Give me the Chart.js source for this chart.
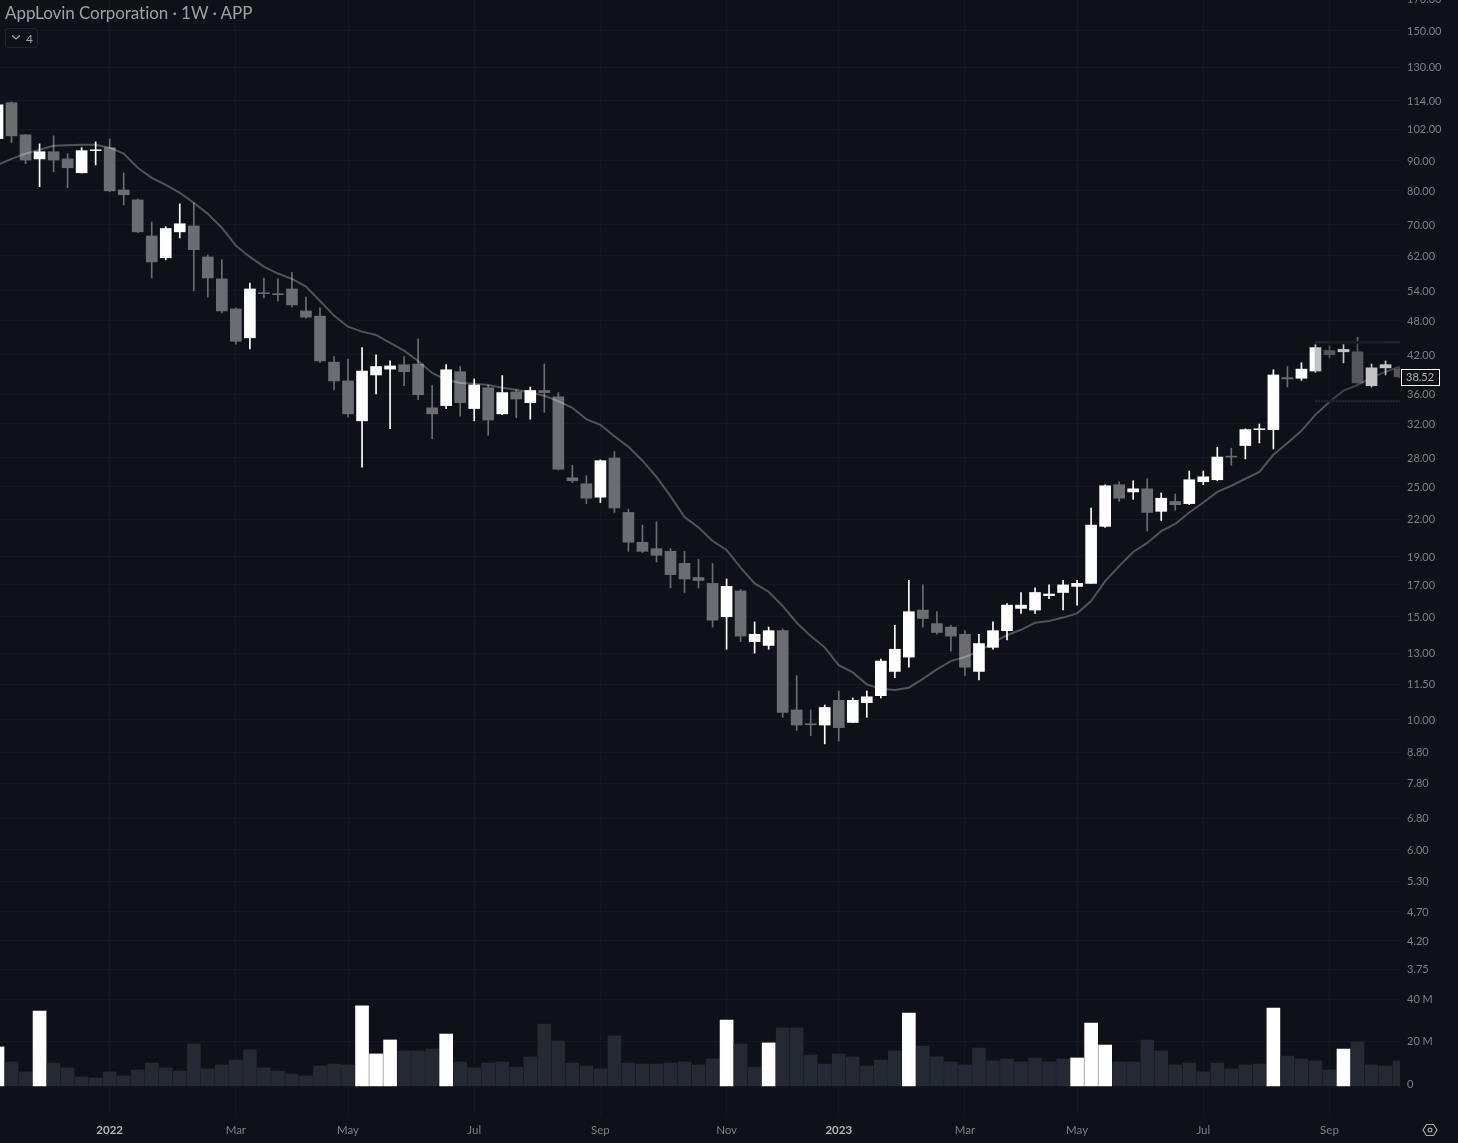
<!DOCTYPE html>
<html>
<head>
<meta charset="utf-8">
<title>AppLovin Corporation 1W</title>
<script src="https://cdn.jsdelivr.net/npm/chart.js@4"></script>
<style>
    html, body { margin: 0; padding: 0; background: #0e1118; }
    #wrap { position: relative; width: 1458px; height: 1143px; overflow: hidden; }
    #chart { display: block; }
    #title { position: absolute; left: 5px; top: 2px; font: 17px Lato, sans-serif; color: #9fa1a6; white-space: nowrap; letter-spacing: -0.06px; }
    #badge { position: absolute; left: 5px; top: 28px; width: 31px; height: 18px; border: 1px solid #22252e; border-radius: 3px; font: 12px Lato, sans-serif; color: #9fa1a6; }
    #badge svg { position: absolute; left: 5px; top: 5px; }
    #badge span { position: absolute; left: 20px; top: 2px; }
    #gear { position: absolute; left: 1422px; top: 1122px; }
</style>
</head>
<body>
<div id="wrap">
    <canvas id="chart" width="1458" height="1143"></canvas>
    <div id="title">AppLovin Corporation · 1W · APP</div>
    <div id="badge">
        <svg width="10" height="7" viewBox="0 0 10 7"><path d="M1 1.5 L5 5 L9 1.5" fill="none" stroke="#9fa1a6" stroke-width="1.2"/></svg>
        <span>4</span>
    </div>
    <svg id="gear" width="16" height="16" viewBox="0 0 16 16">
        <path d="M4.5 2.5 H11.5 L15 8 L11.5 13.5 H4.5 L1 8 Z" fill="none" stroke="#a6a8ac" stroke-width="1.2"/>
        <circle cx="8" cy="8" r="1.9" fill="none" stroke="#a6a8ac" stroke-width="1.2"/>
    </svg>
</div>
<script>
// weekly candles, one entry per week
const opens = [98.25,113.1,99.7,90.7,93.3,90.7,85.9,93.7,94.8,80.3,77.2,67.0,61.5,68.1,69.7,61.7,56.6,50.3,44.9,53.6,53.4,54.4,49.9,48.9,40.8,37.9,32.4,38.8,39.7,40.4,40.5,34.1,34.4,39.3,34.0,36.9,33.3,36.3,34.8,36.5,35.6,25.9,25.3,24.0,28.0,22.6,20.1,19.6,19.4,18.5,17.5,17.1,15.0,16.6,13.6,13.4,14.2,10.4,9.85,9.8,10.8,9.9,10.7,11.0,12.1,12.8,15.4,14.6,14.4,14.0,12.1,13.3,14.2,15.5,15.4,16.3,16.5,16.9,17.1,21.4,25.2,24.5,24.8,22.7,23.6,23.4,25.5,25.7,28.2,29.4,31.3,31.3,38.4,38.3,39.4,42.7,42.5,42.5,37.2,39.9,39.7];
const highs = [113.1,113.5,99.9,96.25,99.3,92.6,94.8,97.0,98.1,85.9,77.5,70.8,69.5,76.0,76.3,62.2,61.0,50.5,55.7,56.8,56.6,58.0,52.7,50.5,41.7,41.3,43.2,42.0,41.0,41.7,44.7,37.2,40.4,40.1,38.2,37.3,38.7,36.6,37.0,40.5,36.2,27.2,26.1,27.8,28.7,22.9,21.5,21.8,19.6,19.4,18.8,18.5,17.4,16.7,14.7,14.4,14.3,11.9,10.4,10.6,11.2,10.9,11.2,12.7,14.5,17.3,17.0,15.3,14.5,14.2,14.0,14.7,15.8,16.5,16.8,17.0,17.3,17.3,23.0,25.2,25.5,25.6,25.8,24.4,24.3,26.6,26.6,29.2,29.1,31.4,32.0,39.6,40.1,40.7,43.7,43.5,43.7,45.0,40.5,41.0,39.9];
const lows = [97.7,96.7,89.0,81.3,86.2,81.0,85.8,88.6,79.7,75.7,67.9,56.8,61.0,66.5,54.0,52.7,49.5,43.8,43.0,52.5,51.9,50.7,48.5,40.7,36.6,32.9,27.0,36.0,31.4,37.2,35.2,30.2,34.0,33.0,32.4,30.6,33.2,32.8,32.6,33.5,26.7,25.4,23.4,23.5,22.6,19.4,19.3,18.6,16.8,16.5,16.8,14.4,13.2,13.6,13.0,13.2,10.1,9.6,9.4,9.1,9.2,9.9,10.1,10.9,11.8,12.3,14.4,14.0,13.1,11.9,11.7,13.2,13.7,15.2,15.2,16.1,15.4,15.7,17.1,21.3,23.6,23.8,21.0,21.9,22.8,23.3,25.2,25.6,27.2,27.9,29.7,29.0,37.0,38.0,39.2,41.5,40.7,37.6,37.0,38.8,38.4];
const closes = [112.2,99.3,90.3,93.3,90.3,87.6,93.7,94.0,80.0,78.8,68.1,60.5,69.0,70.3,63.5,56.8,49.9,44.3,54.4,53.4,53.2,51.1,48.7,41.0,37.9,33.3,39.4,40.1,40.2,39.3,35.9,33.3,39.6,34.8,37.3,32.5,36.2,35.3,36.5,36.2,26.8,25.6,23.9,27.7,23.0,20.1,19.4,19.1,17.7,17.4,17.3,14.8,16.9,13.9,14.0,14.2,10.3,9.8,9.81,10.5,9.7,10.8,10.95,12.6,13.2,15.3,14.9,14.1,13.9,12.3,13.5,14.2,15.7,15.7,16.5,16.4,17.0,17.1,21.5,25.1,23.9,24.8,22.6,23.9,23.3,25.7,26.0,28.1,28.1,31.3,31.4,38.8,38.2,39.7,43.2,42.0,42.9,37.6,39.9,40.4,38.52];
// moving average line
const avgLine = [88.6,90.7,92.6,94.0,95.5,95.7,95.9,95.9,94.8,92.6,87.6,84.2,81.9,79.4,76.3,73.1,69.2,64.5,61.7,59.4,57.8,56.6,54.9,51.9,49.0,46.9,46.0,45.4,44.0,42.7,41.0,39.1,38.05,37.6,37.5,37.3,36.9,36.6,36.2,35.75,35.0,34.1,32.6,31.9,30.5,29.25,27.7,26.0,24.1,22.2,21.3,20.2,19.5,18.2,17.1,16.55,15.65,14.65,13.9,13.3,12.4,12.05,11.5,11.3,11.25,11.35,11.75,12.2,12.6,12.8,13.1,13.55,13.95,14.25,14.65,14.75,14.95,15.2,15.95,17.25,18.3,19.35,20.05,21.0,21.6,22.6,23.5,24.5,25.1,25.8,26.5,28.35,29.7,31.15,33.2,34.9,36.5,37.3,38.35,39.3,40.1];
// volume in millions
const volumes = [17.5,10.4,5.7,34.5,9.9,7.6,3.3,2.8,5.7,3.8,6.6,9.9,7.6,6.1,18.9,7.1,9.0,11.3,16.1,7.6,6.1,4.7,3.8,8.5,9.4,9.0,36.9,14.2,20.8,15.6,15.6,16.5,23.6,10.4,7.6,9.9,10.4,8.0,12.8,28.3,20.3,9.9,8.5,7.1,22.7,9.9,9.4,9.4,9.9,10.4,9.0,11.8,30.2,18.9,8.0,19.4,26.5,26.5,13.7,9.4,14.2,12.8,8.5,11.3,15.6,33.5,18.0,12.8,10.4,9.0,17.0,10.9,11.8,10.4,12.3,10.4,11.8,12.3,28.8,18.4,10.4,10.4,20.8,15.6,9.0,9.9,5.7,9.9,7.1,9.0,9.4,35.9,13.2,11.8,10.9,6.6,16.5,19.8,9.0,8.5,10.9];
const whiteVolumeWeeks = [0,3,26,27,28,32,52,55,65,77,78,79,91,96];

const priceTicks = [170,150,130,114,102,90,80,70,62,54,48,42,36,32,28,25,22,19,17,15,13,11.5,10,8.8,7.8,6.8,6,5.3,4.7,4.2,3.75];
const volumeTicks = [0,20,40];
const timeTickWeeks = [8,17,25,34,43,52,60,69,77,86,95];
const timeTickLabels = ['2022','Mar','May','Jul','Sep','Nov','2023','Mar','May','Jul','Sep'];

const rangeHigh = 44.13;
const rangeLow = 35.03;
const rangeWeeks = [94, 100.03];
const rangeDotsLeft = [94, 95];
const rangeDotsRight = [99, 100.03];
const lastPrice = 38.52;

const BG = '#0e1118';
const UP = '#ffffff';
const DOWN = '#6c6d73';
const GRID = '#141821';
const TEXT = '#7d7f85';

const weeks = closes.map((c, i) => i);
const candleColor = weeks.map(i => closes[i] >= opens[i] ? UP : DOWN);
const isYearTick = ctx => /^20/.test((ctx.tick && ctx.tick.label) || '');

// axis labels must not push the plot area in from the canvas edges
function noPadding(s) {
    s.paddingTop = 0;
    s.paddingBottom = 0;
    s.paddingLeft = 0;
    s.paddingRight = 0;
}

function rangeLine(xs, price, color, width, dash, order) {
    return {
        type: 'line',
        data: xs.map(w => ({ x: w, y: price })),
        borderColor: color,
        borderWidth: width,
        borderDash: dash,
        pointRadius: 0,
        yAxisID: 'y',
        order: order
    };
}

// volume axis takes no layout width, but its labels are clipped to the box, so widen it after layout
const volumeAxisBox = {
    id: 'volumeAxisBox',
    afterLayout(chart) {
        const s = chart.scales.yVol;
        s.right = s.left + 58;
    }
};

// last price tag on the axis
const lastPriceTag = {
    id: 'lastPriceTag',
    afterDraw(chart) {
        const y = chart.scales.y.getPixelForValue(lastPrice);
        const ctx = chart.ctx;
        ctx.save();
        ctx.fillStyle = BG;
        ctx.strokeStyle = '#ffffff';
        ctx.lineWidth = 1;
        ctx.fillRect(1401.5, Math.round(y) - 7.5, 38, 16);
        ctx.strokeRect(1401.5, Math.round(y) - 7.5, 38, 16);
        ctx.fillStyle = '#b4b5b8';
        ctx.font = '11px Lato, sans-serif';
        ctx.textBaseline = 'middle';
        ctx.fillText(lastPrice.toFixed(2), 1406, Math.round(y) + 0.5);
        ctx.restore();
    }
};

new Chart(document.getElementById('chart'), {
    data: {
        datasets: [{
            // dims whatever sits inside the marked range
            type: 'bar',
            data: [{ x: 97, y: [rangeLow, rangeHigh] }],
            backgroundColor: 'rgba(14, 17, 24, 0.25)',
            barThickness: 85,
            grouped: false,
            yAxisID: 'y',
            order: 0
        },
        rangeLine(rangeDotsLeft, rangeHigh, '#4c4f58', 1, [1, 2], 1),
        rangeLine(rangeDotsRight, rangeHigh, '#4c4f58', 1, [1, 2], 1),
        rangeLine(rangeWeeks, rangeHigh, '#1d2029', 3, [], 2),
        rangeLine(rangeWeeks, rangeLow, '#55575f', 1, [1, 2], 1),
        rangeLine(rangeWeeks, rangeLow, '#171a22', 3, [], 2),
        {
            type: 'line',
            data: weeks.map(i => ({ x: i, y: avgLine[i] })),
            borderColor: 'rgba(255, 255, 255, 0.28)',
            borderWidth: 2,
            pointRadius: 0,
            tension: 0,
            yAxisID: 'y',
            order: 3
        }, {
            type: 'bar',
            data: weeks.map(i => ({ x: i, y: [Math.min(opens[i], closes[i]), Math.max(opens[i], closes[i])] })),
            backgroundColor: candleColor,
            barThickness: 11,
            grouped: false,
            yAxisID: 'y',
            order: 4
        }, {
            type: 'bar',
            data: weeks.map(i => ({ x: i, y: [lows[i], highs[i]] })),
            backgroundColor: candleColor,
            barThickness: 1,
            grouped: false,
            yAxisID: 'y',
            order: 5
        }, {
            type: 'bar',
            data: weeks.map(i => ({ x: i, y: volumes[i] })),
            backgroundColor: weeks.map(i => whiteVolumeWeeks.includes(i) ? '#ffffff' : '#252933'),
            barThickness: 13,
            grouped: false,
            base: -0.9,
            yAxisID: 'yVol',
            order: 6
        }]
    },
    plugins: [volumeAxisBox, lastPriceTag],
    options: {
        responsive: false,
        animation: false,
        devicePixelRatio: 1,
        layout: { padding: 0 },
        plugins: { legend: { display: false }, tooltip: { enabled: false } },
        scales: {
            x: {
                type: 'linear',
                offset: false,
                min: 0.178,
                max: 100.03,
                afterBuildTicks: s => { s.ticks = timeTickWeeks.map(v => ({ value: v })); },
                afterFit: s => { s.height = 28; noPadding(s); },
                grid: { color: GRID, drawTicks: false, offset: false },
                border: { display: false },
                ticks: {
                    autoSkip: false,
                    maxRotation: 0,
                    padding: 8,
                    callback: v => timeTickLabels[timeTickWeeks.indexOf(v)],
                    color: ctx => isYearTick(ctx) ? '#b3b5b9' : TEXT,
                    font: ctx => ({
                        family: 'Lato, sans-serif',
                        size: 11.5,
                        weight: isYearTick(ctx) ? 'bold' : 'normal'
                    })
                }
            },
            yVol: {
                type: 'linear',
                position: 'right',
                weight: 0,
                min: -14.64,
                max: 512.04,
                afterBuildTicks: s => { s.ticks = volumeTicks.map(v => ({ value: v })); },
                afterFit: s => { s.width = 0; noPadding(s); },
                grid: { color: GRID, drawTicks: false },
                border: { display: false },
                ticks: {
                    autoSkip: false,
                    padding: 7,
                    color: TEXT,
                    font: { family: 'Lato, sans-serif', size: 11 },
                    callback: v => v === 0 ? '0' : v + ' M'
                }
            },
            y: {
                type: 'logarithmic',
                position: 'right',
                weight: 1,
                min: 2.116,
                max: 169.4,
                afterBuildTicks: s => { s.ticks = priceTicks.map(v => ({ value: v })); },
                afterFit: s => { s.width = 58; noPadding(s); },
                grid: { color: GRID, drawTicks: false },
                border: { display: false },
                ticks: {
                    autoSkip: false,
                    padding: 7,
                    labelOffset: 0.5,
                    color: TEXT,
                    font: { family: 'Lato, sans-serif', size: 11 },
                    callback: v => v.toFixed(2)
                }
            }
        }
    }
});
</script>
</body>
</html>
